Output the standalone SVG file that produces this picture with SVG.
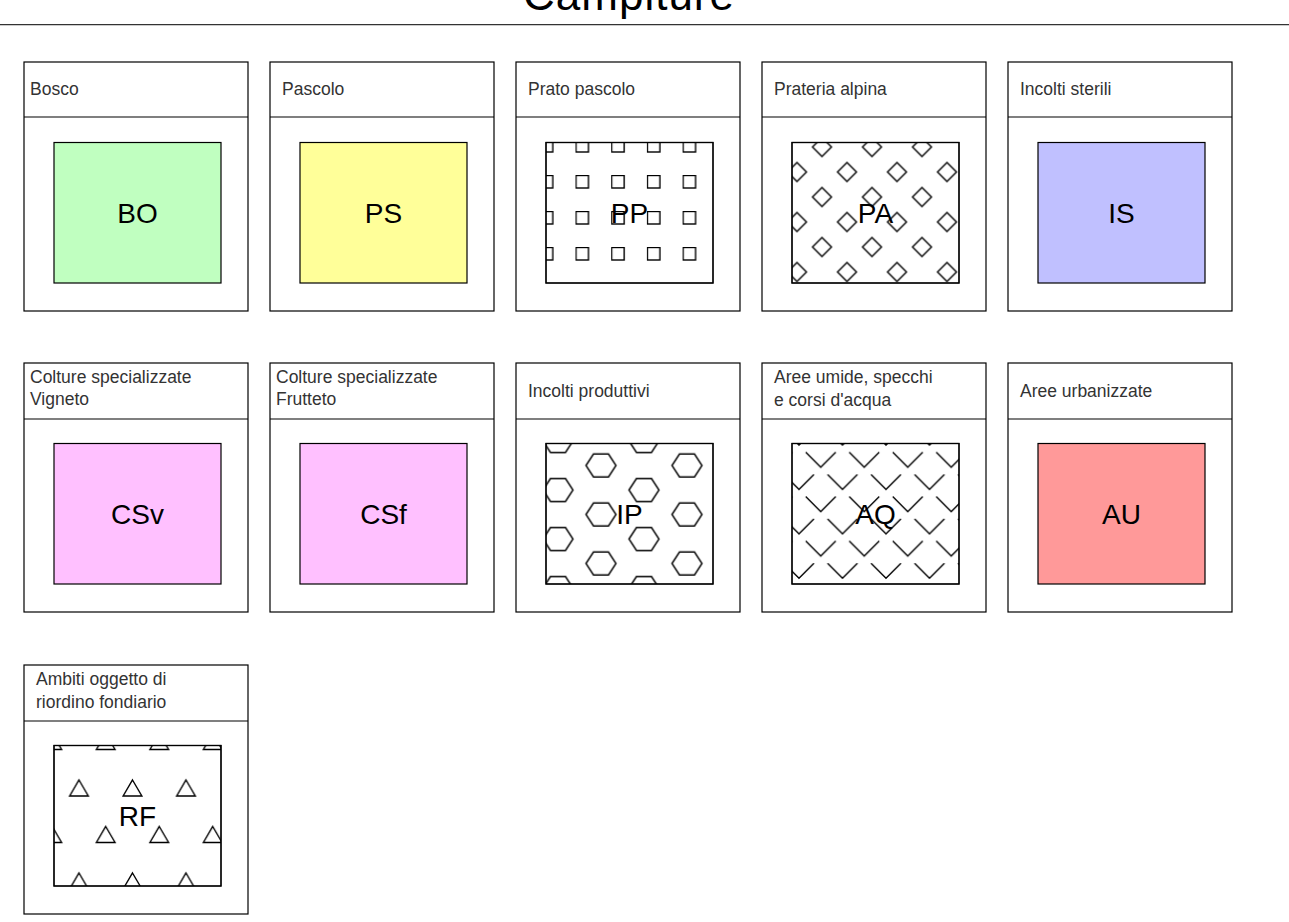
<svg xmlns="http://www.w3.org/2000/svg" width="1289" height="922" viewBox="0 0 1289 922">
<style>
.card{fill:#fff;stroke:#000;stroke-width:1.2}
.inner{stroke:#000;stroke-width:1.2}
.hdr{font-family:"Liberation Sans",Arial,sans-serif;font-size:17.5px;fill:#333}
.lbl{font-family:"Liberation Sans",Arial,sans-serif;font-size:28px;fill:#000;text-anchor:middle}
.pat{fill:none;stroke:#000;stroke-width:1.4}
</style>
<defs>
<pattern id="pSq" patternUnits="userSpaceOnUse" x="575.5" y="175" width="35.7" height="36"><rect class="pat" x="0.5" y="0.5" width="12.5" height="12.5"/></pattern>
<pattern id="pDia" patternUnits="userSpaceOnUse" x="809.5" y="134.5" width="50" height="50"><path class="pat" d="M12.5 3L22 12.5L12.5 22L3 12.5Z M37.5 28L47 37.5L37.5 47L28 37.5Z"/></pattern>
<pattern id="pHex" patternUnits="userSpaceOnUse" x="536.5" y="428.75" width="86" height="49"><path class="pat" d="M6.5 12.25L14 0.75L29 0.75L36.5 12.25L29 23.75L14 23.75Z M49.5 36.75L57 25.25L72 25.25L79.5 36.75L72 48.25L57 48.25Z"/></pattern>
<pattern id="pChev" patternUnits="userSpaceOnUse" x="799" y="430" width="43.5" height="44.4"><path class="pat" d="M-15 0L0 15L15 0 M28.5 0L43.5 15L58.5 0 M6.75 22.2L21.75 37.2L36.75 22.2"/></pattern>
<pattern id="pTri" patternUnits="userSpaceOnUse" x="65.625" y="770" width="53.5" height="93"><path class="pat" d="M13.375 10L22.7 26L4.05 26Z M40.125 56.5L49.45 72.5L30.8 72.5Z"/></pattern>
</defs>
<g id="title">
<text x="629" y="10" font-family="'Liberation Sans',Arial,sans-serif" font-size="44" letter-spacing="1" text-anchor="middle" fill="#000">Campiture</text>
<line x1="0" y1="24.6" x2="1289" y2="24.6" stroke="#333" stroke-width="1.4"/>
</g>
<g id="BO"><rect class="card" x="24" y="62" width="224" height="249"/><line class="inner" x1="24" y1="117" x2="248" y2="117"/><text class="hdr" x="30" y="95">Bosco</text><rect class="inner" x="54" y="142.5" width="167" height="140.5" fill="#c0ffc0"/><text class="lbl" x="137.5" y="223">BO</text></g>
<g id="PS"><rect class="card" x="270" y="62" width="224" height="249"/><line class="inner" x1="270" y1="117" x2="494" y2="117"/><text class="hdr" x="282" y="95">Pascolo</text><rect class="inner" x="300" y="142.5" width="167" height="140.5" fill="#ffff99"/><text class="lbl" x="383.5" y="223">PS</text></g>
<g id="PP"><rect class="card" x="516" y="62" width="224" height="249"/><line class="inner" x1="516" y1="117" x2="740" y2="117"/><text class="hdr" x="528" y="95">Prato pascolo</text><rect class="inner" x="546" y="142.5" width="167" height="140.5" fill="#fff"/><rect x="546" y="142.5" width="167" height="140.5" fill="url(#pSq)" stroke="#000" stroke-width="1.2"/><text class="lbl" x="629.5" y="223">PP</text></g>
<g id="PA"><rect class="card" x="762" y="62" width="224" height="249"/><line class="inner" x1="762" y1="117" x2="986" y2="117"/><text class="hdr" x="774" y="95">Prateria alpina</text><rect class="inner" x="792" y="142.5" width="167" height="140.5" fill="#fff"/><rect x="792" y="142.5" width="167" height="140.5" fill="url(#pDia)" stroke="#000" stroke-width="1.2"/><text class="lbl" x="875.5" y="223">PA</text></g>
<g id="IS"><rect class="card" x="1008" y="62" width="224" height="249"/><line class="inner" x1="1008" y1="117" x2="1232" y2="117"/><text class="hdr" x="1020" y="95">Incolti sterili</text><rect class="inner" x="1038" y="142.5" width="167" height="140.5" fill="#c0c0ff"/><text class="lbl" x="1121.5" y="223">IS</text></g>
<g id="CSv"><rect class="card" x="24" y="363" width="224" height="249"/><line class="inner" x1="24" y1="419" x2="248" y2="419"/><text class="hdr" x="30" y="383">Colture specializzate</text><text class="hdr" x="30" y="405">Vigneto</text><rect class="inner" x="54" y="443.5" width="167" height="140.5" fill="#ffc0ff"/><text class="lbl" x="137.5" y="524">CSv</text></g>
<g id="CSf"><rect class="card" x="270" y="363" width="224" height="249"/><line class="inner" x1="270" y1="419" x2="494" y2="419"/><text class="hdr" x="276" y="383">Colture specializzate</text><text class="hdr" x="276" y="405">Frutteto</text><rect class="inner" x="300" y="443.5" width="167" height="140.5" fill="#ffc0ff"/><text class="lbl" x="383.5" y="524">CSf</text></g>
<g id="IP"><rect class="card" x="516" y="363" width="224" height="249"/><line class="inner" x1="516" y1="419" x2="740" y2="419"/><text class="hdr" x="528" y="397">Incolti produttivi</text><rect class="inner" x="546" y="443.5" width="167" height="140.5" fill="#fff"/><rect x="546" y="443.5" width="167" height="140.5" fill="url(#pHex)" stroke="#000" stroke-width="1.2"/><text class="lbl" x="629.5" y="524">IP</text></g>
<g id="AQ"><rect class="card" x="762" y="363" width="224" height="249"/><line class="inner" x1="762" y1="419" x2="986" y2="419"/><text class="hdr" x="774" y="383">Aree umide, specchi</text><text class="hdr" x="774" y="406">e corsi d'acqua</text><rect class="inner" x="792" y="443.5" width="167" height="140.5" fill="#fff"/><rect x="792" y="443.5" width="167" height="140.5" fill="url(#pChev)" stroke="#000" stroke-width="1.2"/><text class="lbl" x="875.5" y="524">AQ</text></g>
<g id="AU"><rect class="card" x="1008" y="363" width="224" height="249"/><line class="inner" x1="1008" y1="419" x2="1232" y2="419"/><text class="hdr" x="1020" y="397">Aree urbanizzate</text><rect class="inner" x="1038" y="443.5" width="167" height="140.5" fill="#ff9999"/><text class="lbl" x="1121.5" y="524">AU</text></g>
<g id="RF"><rect class="card" x="24" y="665" width="224" height="249"/><line class="inner" x1="24" y1="721" x2="248" y2="721"/><text class="hdr" x="36" y="685">Ambiti oggetto di</text><text class="hdr" x="36" y="708">riordino fondiario</text><rect class="inner" x="54" y="745.5" width="167" height="140.5" fill="#fff"/><rect x="54" y="745.5" width="167" height="140.5" fill="url(#pTri)" stroke="#000" stroke-width="1.2"/><text class="lbl" x="137.5" y="826">RF</text></g>
</svg>
